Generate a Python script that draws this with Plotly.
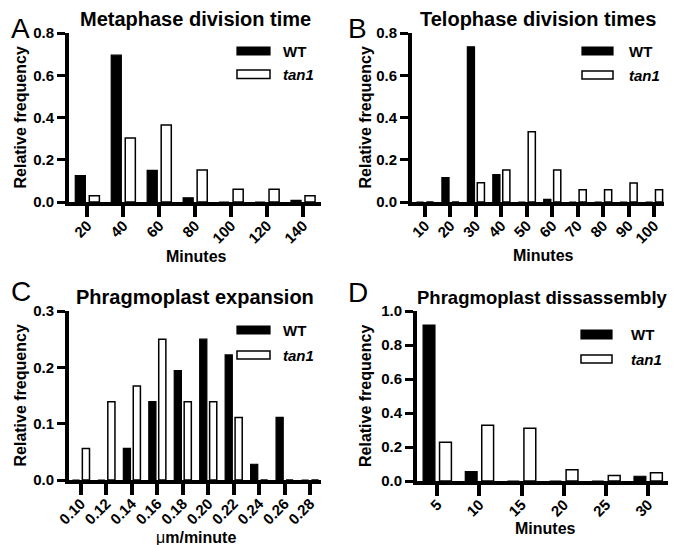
import plotly.graph_objects as go

# ---------------- data ----------------
series_names = ["WT", "tan1"]

a_title = "Metaphase division time"
a_cats = ["20", "40", "60", "80", "100", "120", "140"]
a_wt = [0.125, 0.695, 0.150, 0.020, 0.0, 0.0, 0.008]
a_tan1 = [0.030, 0.303, 0.364, 0.152, 0.060, 0.060, 0.030]

b_title = "Telophase division times"
b_cats = ["10", "20", "30", "40", "50", "60", "70", "80", "90", "100"]
b_wt = [0.0, 0.115, 0.735, 0.130, 0.0, 0.012, 0.0, 0.0, 0.0, 0.0]
b_tan1 = [0.0, 0.0, 0.091, 0.152, 0.333, 0.152, 0.058, 0.058, 0.090, 0.058]

c_title = "Phragmoplast expansion"
c_cats = ["0.10", "0.12", "0.14", "0.16", "0.18", "0.20", "0.22", "0.24", "0.26", "0.28"]
c_wt = [0.0, 0.0, 0.056, 0.139, 0.194, 0.250, 0.222, 0.028, 0.111, 0.0]
c_tan1 = [0.056, 0.139, 0.167, 0.250, 0.139, 0.139, 0.111, 0.0, 0.0, 0.0]

d_title = "Phragmoplast dissassembly"
d_cats = ["5", "10", "15", "20", "25", "30"]
d_wt = [0.917, 0.056, 0.0, 0.0, 0.0, 0.028]
d_tan1 = [0.228, 0.328, 0.311, 0.066, 0.033, 0.049]

a_yticks = [0.0, 0.2, 0.4, 0.6, 0.8]
b_yticks = [0.0, 0.2, 0.4, 0.6, 0.8]
c_yticks = [0.0, 0.1, 0.2, 0.3]
d_yticks = [0.0, 0.2, 0.4, 0.6, 0.8, 1.0]

y_label = "Relative frequency"
a_xlabel = "Minutes"
b_xlabel = "Minutes"
c_xlabel = "\u03bc<b>m/minute</b>"
d_xlabel = "Minutes"

# ---------------- layout helpers ----------------
W, H = 677, 545
FONT = "Liberation Sans, Arial, Helvetica, sans-serif"
INK = "#000000"


def px(x):
    return x / W


def py(y):
    return 1 - y / H


fig = go.Figure()

panels = [
    dict(cats=a_cats, wt=a_wt, tan=a_tan1, yt=a_yticks, title=a_title, xlab=a_xlabel,
         box=(61, 313, 194, 25), xr=[-0.51, 6.5], letter="A", lpos=(1, 21), tsize=20,
         ytx=12, xtp=(188, 248), leg=(229, 262, 39, 47, 62, 70.5, 273)),
    dict(cats=b_cats, wt=b_wt, tan=b_tan1, yt=b_yticks, title=b_title, xlab=b_xlabel,
         box=(404, 656, 194, 25), xr=[-0.51, 9.39], letter="B", lpos=(338, 21), tsize=20,
         ytx=357, xtp=(535, 247), leg=(574, 605, 39, 47, 63, 71, 619)),
    dict(cats=c_cats, wt=c_wt, tan=c_tan1, yt=c_yticks, title=c_title, xlab=c_xlabel,
         box=(61, 313, 472, 303), xr=[-0.47, 9.43], letter="C", lpos=(1, 283), tsize=20,
         ytx=12, xtp=(188, 529), leg=(229, 262, 318, 326, 343, 351, 273)),
    dict(cats=d_cats, wt=d_wt, tan=d_tan1, yt=d_yticks, title=d_title, xlab=d_xlabel,
         box=(409, 660, 473, 303), xr=[-0.48, 5.47], letter="D", lpos=(338, 284), tsize=18.5,
         ytx=357, xtp=(537, 520), leg=(573, 604, 322, 331, 347, 355, 621)),
]

annotations = []
shapes = []
axes = {}

for i, p in enumerate(panels, start=1):
    sfx = "" if i == 1 else str(i)
    xa, ya = "x" + sfx, "y" + sfx
    xl, xr_, yb, ytop = p["box"]

    fig.add_trace(go.Bar(x=p["cats"], y=p["wt"], name=series_names[0], xaxis=xa, yaxis=ya,
                         marker=dict(color=INK, line=dict(color=INK, width=1.2)),
                         showlegend=False))
    fig.add_trace(go.Bar(x=p["cats"], y=p["tan"], name=series_names[1], xaxis=xa, yaxis=ya,
                         marker=dict(color="white", line=dict(color=INK, width=1.5)),
                         showlegend=False))

    common = dict(showline=True, linecolor=INK, linewidth=4, ticks="outside",
                  tickcolor=INK, showgrid=False, zeroline=False, automargin=False)
    axes["xaxis" + sfx] = dict(
        common, domain=[px(xl), px(xr_)], anchor=ya, type="category", range=p["xr"],
        ticklen=11, tickwidth=3.5, tickangle=-45, ticklabelstandoff=-6,
        tickfont=dict(family=FONT, size=15, color=INK, weight="bold"))
    axes["yaxis" + sfx] = dict(
        common, domain=[py(yb), py(ytop)], anchor=xa, range=[0, p["yt"][-1]],
        tickmode="array", tickvals=p["yt"], tickformat=".1f", ticklen=8, tickwidth=3,
        tickfont=dict(family=FONT, size=15, color=INK, weight="bold"))

    # panel title
    annotations.append(dict(text="<b>%s</b>" % p["title"], x=px((xl + xr_) / 2), y=py(ytop - 14),
                            xref="paper", yref="paper", xanchor="center", yanchor="middle",
                            showarrow=False, font=dict(family=FONT, size=p["tsize"], color=INK)))
    # panel letter
    lx, ly = p["lpos"]
    annotations.append(dict(text=p["letter"], x=px(lx), y=py(ly), xref="paper", yref="paper",
                            xanchor="left", yanchor="middle", showarrow=False,
                            font=dict(family=FONT, size=28, color=INK)))
    # y title
    annotations.append(dict(text="<b>%s</b>" % y_label, x=px(p["ytx"]), y=py((yb + ytop) / 2),
                            xref="paper", yref="paper", xanchor="center", yanchor="middle",
                            textangle=-90, showarrow=False,
                            font=dict(family=FONT, size=16, color=INK)))
    # x title
    xt = p["xlab"] if "<b>" in p["xlab"] else "<b>%s</b>" % p["xlab"]
    annotations.append(dict(text=xt, x=px(p["xtp"][0]), y=py(p["xtp"][1]),
                            xref="paper", yref="paper", xanchor="center", yanchor="middle",
                            showarrow=False, font=dict(family=FONT, size=16, color=INK)))
    # legend (swatch + label per series)
    sx0, sx1, wy0, wy1, ty0, ty1, tx = p["leg"]
    shapes.append(dict(type="rect", xref="paper", yref="paper", x0=px(sx0), x1=px(sx1),
                       y0=py(wy1), y1=py(wy0), fillcolor=INK,
                       line=dict(color=INK, width=1.2)))
    shapes.append(dict(type="rect", xref="paper", yref="paper", x0=px(sx0), x1=px(sx1),
                       y0=py(ty1), y1=py(ty0), fillcolor="white",
                       line=dict(color=INK, width=1.5)))
    annotations.append(dict(text="<b>%s</b>" % series_names[0], x=px(tx), y=py((wy0 + wy1) / 2),
                            xref="paper", yref="paper", xanchor="left", yanchor="middle",
                            showarrow=False, font=dict(family=FONT, size=15, color=INK)))
    annotations.append(dict(text="<b><i>%s</i></b>" % series_names[1], x=px(tx),
                            y=py((ty0 + ty1) / 2), xref="paper", yref="paper",
                            xanchor="left", yanchor="middle", showarrow=False,
                            font=dict(family=FONT, size=15, color=INK)))

fig.update_layout(
    width=W, height=H,
    margin=dict(l=0, r=0, t=0, b=0, autoexpand=False),
    plot_bgcolor="white", paper_bgcolor="white",
    barmode="group", bargap=0.22, bargroupgap=0.28,
    showlegend=False,
    annotations=annotations, shapes=shapes,
    **axes,
)

fig.write_html("out.html")
